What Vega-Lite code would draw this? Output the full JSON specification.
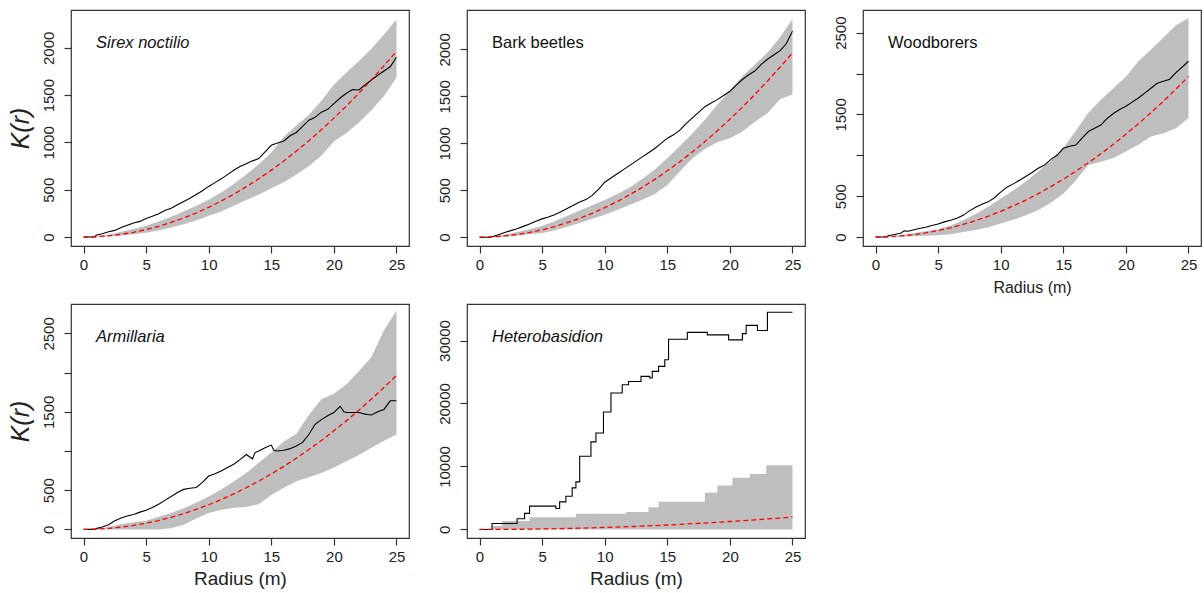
{
"$schema":"https://vega.github.io/schema/vega-lite/v6.json",
"background":"white",
"padding":{"left":7,"top":9,"right":0,"bottom":0},
"config":{
 "font":"Liberation Sans",
 "view":{"stroke":"#333","strokeWidth":1.2},
 "axis":{"grid":false,"domain":false,"tickColor":"#333","tickSize":7,"tickWidth":1.2,"labelFontSize":15,"labelColor":"#222","labelFont":"Liberation Sans","titleFont":"Liberation Sans","titleFontWeight":"normal","titleColor":"#222"},
 "axisX":{"labelPadding":4,"labelAngle":0},
 "axisY":{"labelAngle":-90,"labelAlign":"center","labelBaseline":"bottom","labelPadding":8},
 "title":{"fontSize":16.5,"fontWeight":"normal","color":"#111","anchor":"start","frame":"group","dx":25,"offset":-41}
},
"datasets":{
 "theo":[{"r":0,"k":0},{"r":1,"k":3},{"r":2,"k":13},{"r":3,"k":28},{"r":4,"k":50},{"r":5,"k":79},{"r":6,"k":113},{"r":7,"k":154},{"r":8,"k":201},{"r":9,"k":254},{"r":10,"k":314},{"r":11,"k":380},{"r":12,"k":452},{"r":13,"k":531},{"r":14,"k":616},{"r":15,"k":707},{"r":16,"k":804},{"r":17,"k":908},{"r":18,"k":1018},{"r":19,"k":1134},{"r":20,"k":1257},{"r":21,"k":1385},{"r":22,"k":1521},{"r":23,"k":1662},{"r":24,"k":1810},{"r":25,"k":1963}],
 "sirex_obs":[{"r":0,"k":0},{"r":0.9,"k":0},{"r":1,"k":20},{"r":1.5,"k":35},{"r":2,"k":55},{"r":2.5,"k":70},{"r":3,"k":100},{"r":3.5,"k":125},{"r":4,"k":148},{"r":4.5,"k":165},{"r":5,"k":195},{"r":5.5,"k":220},{"r":6,"k":245},{"r":6.5,"k":280},{"r":7,"k":305},{"r":7.5,"k":340},{"r":8,"k":375},{"r":8.5,"k":410},{"r":9,"k":450},{"r":9.5,"k":490},{"r":10,"k":535},{"r":10.5,"k":575},{"r":11,"k":615},{"r":11.5,"k":660},{"r":12,"k":705},{"r":12.5,"k":745},{"r":13,"k":775},{"r":13.5,"k":805},{"r":14,"k":830},{"r":14.5,"k":900},{"r":15,"k":970},{"r":15.5,"k":995},{"r":16,"k":1015},{"r":16.5,"k":1070},{"r":17,"k":1105},{"r":17.5,"k":1170},{"r":18,"k":1235},{"r":18.5,"k":1265},{"r":19,"k":1320},{"r":19.5,"k":1350},{"r":20,"k":1410},{"r":20.5,"k":1470},{"r":21,"k":1520},{"r":21.5,"k":1560},{"r":22,"k":1555},{"r":22.5,"k":1610},{"r":23,"k":1660},{"r":23.5,"k":1710},{"r":24,"k":1755},{"r":24.5,"k":1800},{"r":25,"k":1900}],
 "sirex_env":[{"r":0,"lo":0,"hi":0},{"r":1,"lo":0,"hi":5},{"r":2,"lo":5,"hi":25},{"r":3,"lo":15,"hi":55},{"r":4,"lo":30,"hi":85},{"r":5,"lo":45,"hi":120},{"r":6,"lo":70,"hi":165},{"r":7,"lo":100,"hi":215},{"r":8,"lo":135,"hi":270},{"r":9,"lo":175,"hi":330},{"r":10,"lo":225,"hi":395},{"r":11,"lo":270,"hi":470},{"r":12,"lo":330,"hi":560},{"r":13,"lo":390,"hi":660},{"r":14,"lo":450,"hi":770},{"r":15,"lo":515,"hi":890},{"r":16,"lo":580,"hi":1060},{"r":17,"lo":660,"hi":1180},{"r":18,"lo":750,"hi":1290},{"r":19,"lo":860,"hi":1440},{"r":20,"lo":1010,"hi":1610},{"r":21,"lo":1100,"hi":1740},{"r":22,"lo":1210,"hi":1860},{"r":23,"lo":1340,"hi":1990},{"r":24,"lo":1490,"hi":2140},{"r":25,"lo":1685,"hi":2300}],
 "bark_obs":[{"r":0,"k":0},{"r":0.9,"k":0},{"r":1,"k":5},{"r":1.5,"k":25},{"r":2,"k":50},{"r":2.5,"k":70},{"r":3,"k":90},{"r":3.5,"k":115},{"r":4,"k":140},{"r":4.5,"k":170},{"r":5,"k":195},{"r":5.5,"k":215},{"r":6,"k":240},{"r":6.5,"k":270},{"r":7,"k":305},{"r":7.5,"k":340},{"r":8,"k":375},{"r":8.5,"k":400},{"r":9,"k":445},{"r":9.5,"k":510},{"r":10,"k":585},{"r":10.5,"k":630},{"r":11,"k":675},{"r":11.5,"k":720},{"r":12,"k":765},{"r":12.5,"k":810},{"r":13,"k":855},{"r":13.5,"k":900},{"r":14,"k":945},{"r":14.5,"k":1000},{"r":15,"k":1055},{"r":15.5,"k":1090},{"r":16,"k":1140},{"r":16.5,"k":1210},{"r":17,"k":1270},{"r":17.5,"k":1330},{"r":18,"k":1390},{"r":18.5,"k":1430},{"r":19,"k":1465},{"r":19.5,"k":1510},{"r":20,"k":1555},{"r":20.5,"k":1620},{"r":21,"k":1680},{"r":21.5,"k":1730},{"r":22,"k":1770},{"r":22.5,"k":1840},{"r":23,"k":1895},{"r":23.5,"k":1940},{"r":24,"k":1985},{"r":24.5,"k":2060},{"r":25,"k":2195}],
 "bark_env":[{"r":0,"lo":0,"hi":0},{"r":1,"lo":0,"hi":5},{"r":2,"lo":5,"hi":25},{"r":3,"lo":15,"hi":55},{"r":4,"lo":30,"hi":85},{"r":5,"lo":45,"hi":120},{"r":6,"lo":75,"hi":170},{"r":7,"lo":110,"hi":225},{"r":8,"lo":150,"hi":285},{"r":9,"lo":195,"hi":340},{"r":10,"lo":240,"hi":395},{"r":11,"lo":290,"hi":460},{"r":12,"lo":345,"hi":530},{"r":13,"lo":400,"hi":620},{"r":14,"lo":460,"hi":720},{"r":15,"lo":555,"hi":840},{"r":16,"lo":700,"hi":970},{"r":17,"lo":840,"hi":1105},{"r":18,"lo":940,"hi":1250},{"r":19,"lo":1010,"hi":1410},{"r":20,"lo":1055,"hi":1560},{"r":21,"lo":1125,"hi":1715},{"r":22,"lo":1230,"hi":1840},{"r":23,"lo":1320,"hi":1965},{"r":24,"lo":1470,"hi":2130},{"r":25,"lo":1520,"hi":2325}],
 "wood_obs":[{"r":0,"k":0},{"r":0.9,"k":0},{"r":1,"k":15},{"r":1.5,"k":30},{"r":2,"k":45},{"r":2.3,"k":75},{"r":2.6,"k":70},{"r":3,"k":85},{"r":3.5,"k":105},{"r":4,"k":120},{"r":4.5,"k":140},{"r":5,"k":160},{"r":5.5,"k":185},{"r":6,"k":205},{"r":6.5,"k":230},{"r":7,"k":265},{"r":7.5,"k":320},{"r":8,"k":365},{"r":8.5,"k":400},{"r":9,"k":430},{"r":9.5,"k":480},{"r":10,"k":550},{"r":10.5,"k":610},{"r":11,"k":650},{"r":11.5,"k":695},{"r":12,"k":740},{"r":12.5,"k":790},{"r":13,"k":840},{"r":13.5,"k":880},{"r":14,"k":950},{"r":14.5,"k":1000},{"r":15,"k":1085},{"r":15.5,"k":1110},{"r":16,"k":1125},{"r":16.5,"k":1210},{"r":17,"k":1290},{"r":17.5,"k":1330},{"r":18,"k":1370},{"r":18.5,"k":1450},{"r":19,"k":1510},{"r":19.5,"k":1560},{"r":20,"k":1600},{"r":20.5,"k":1650},{"r":21,"k":1700},{"r":21.5,"k":1760},{"r":22,"k":1820},{"r":22.5,"k":1880},{"r":23,"k":1905},{"r":23.5,"k":1930},{"r":24,"k":2010},{"r":24.5,"k":2080},{"r":25,"k":2150}],
 "wood_env":[{"r":0,"lo":0,"hi":0},{"r":1,"lo":0,"hi":5},{"r":2,"lo":2,"hi":20},{"r":3,"lo":10,"hi":45},{"r":4,"lo":15,"hi":70},{"r":5,"lo":20,"hi":95},{"r":6,"lo":35,"hi":140},{"r":7,"lo":60,"hi":205},{"r":8,"lo":85,"hi":280},{"r":9,"lo":120,"hi":370},{"r":10,"lo":165,"hi":470},{"r":11,"lo":210,"hi":570},{"r":12,"lo":265,"hi":680},{"r":13,"lo":330,"hi":800},{"r":14,"lo":420,"hi":940},{"r":15,"lo":530,"hi":1090},{"r":16,"lo":690,"hi":1300},{"r":17,"lo":880,"hi":1520},{"r":18,"lo":920,"hi":1680},{"r":19,"lo":965,"hi":1820},{"r":20,"lo":1045,"hi":1960},{"r":21,"lo":1130,"hi":2150},{"r":22,"lo":1230,"hi":2290},{"r":23,"lo":1270,"hi":2440},{"r":24,"lo":1330,"hi":2590},{"r":25,"lo":1455,"hi":2680}],
 "arm_obs":[{"r":0,"k":0},{"r":0.9,"k":0},{"r":1,"k":10},{"r":1.5,"k":30},{"r":2,"k":60},{"r":2.5,"k":110},{"r":3,"k":145},{"r":3.5,"k":170},{"r":4,"k":190},{"r":4.5,"k":220},{"r":5,"k":245},{"r":5.5,"k":280},{"r":6,"k":320},{"r":6.5,"k":370},{"r":7,"k":420},{"r":7.5,"k":470},{"r":8,"k":510},{"r":8.5,"k":525},{"r":9,"k":535},{"r":9.5,"k":600},{"r":10,"k":680},{"r":10.5,"k":710},{"r":11,"k":745},{"r":11.5,"k":790},{"r":12,"k":830},{"r":12.5,"k":890},{"r":13,"k":955},{"r":13.5,"k":900},{"r":13.7,"k":980},{"r":14,"k":1000},{"r":14.5,"k":1040},{"r":15,"k":1075},{"r":15.2,"k":1010},{"r":15.5,"k":1000},{"r":16,"k":1010},{"r":16.5,"k":1030},{"r":17,"k":1065},{"r":17.5,"k":1110},{"r":18,"k":1210},{"r":18.5,"k":1340},{"r":19,"k":1400},{"r":19.5,"k":1450},{"r":20,"k":1490},{"r":20.5,"k":1570},{"r":20.8,"k":1500},{"r":21,"k":1490},{"r":21.5,"k":1490},{"r":22,"k":1490},{"r":22.5,"k":1470},{"r":23,"k":1460},{"r":23.5,"k":1500},{"r":24,"k":1530},{"r":24.5,"k":1640},{"r":25,"k":1640}],
 "arm_env":[{"r":0,"lo":0,"hi":0},{"r":1,"lo":0,"hi":5},{"r":2,"lo":0,"hi":30},{"r":3,"lo":0,"hi":65},{"r":4,"lo":0,"hi":90},{"r":5,"lo":0,"hi":110},{"r":6,"lo":0,"hi":160},{"r":7,"lo":15,"hi":210},{"r":8,"lo":60,"hi":270},{"r":9,"lo":140,"hi":340},{"r":10,"lo":210,"hi":420},{"r":11,"lo":250,"hi":510},{"r":12,"lo":275,"hi":610},{"r":13,"lo":290,"hi":720},{"r":14,"lo":320,"hi":850},{"r":15,"lo":440,"hi":980},{"r":16,"lo":530,"hi":1120},{"r":17,"lo":615,"hi":1220},{"r":18,"lo":665,"hi":1460},{"r":19,"lo":720,"hi":1660},{"r":20,"lo":790,"hi":1730},{"r":21,"lo":870,"hi":1850},{"r":22,"lo":950,"hi":2020},{"r":23,"lo":1040,"hi":2200},{"r":24,"lo":1130,"hi":2540},{"r":25,"lo":1210,"hi":2790}],
 "het_obs":[{"r":0,"k":0},{"r":1.0,"k":950},{"r":3.0,"k":1700},{"r":3.6,"k":2550},{"r":4.0,"k":3700},{"r":6.1,"k":3330},{"r":6.4,"k":4380},{"r":6.9,"k":5280},{"r":7.4,"k":6600},{"r":7.7,"k":7550},{"r":8.0,"k":11620},{"r":8.9,"k":13900},{"r":9.3,"k":15320},{"r":9.9,"k":18650},{"r":10.5,"k":21660},{"r":11.4,"k":22980},{"r":11.9,"k":23500},{"r":12.9,"k":24300},{"r":13.6,"k":24050},{"r":13.8,"k":25100},{"r":14.3,"k":25900},{"r":14.8,"k":26950},{"r":15.1,"k":30200},{"r":16.6,"k":31300},{"r":18.2,"k":30900},{"r":19.9,"k":30100},{"r":21.0,"k":31100},{"r":21.3,"k":32400},{"r":22.2,"k":31600},{"r":23.0,"k":34500},{"r":25,"k":34500}],
 "het_env":[{"r":0,"lo":0,"hi":0},{"r":1.0,"lo":0,"hi":530},{"r":1.8,"lo":0,"hi":1320},{"r":4.0,"lo":0,"hi":1950},{"r":7.7,"lo":0,"hi":2480},{"r":11.7,"lo":0,"hi":2750},{"r":13.5,"lo":0,"hi":3540},{"r":14.3,"lo":0,"hi":4380},{"r":18.0,"lo":0,"hi":5810},{"r":19.0,"lo":0,"hi":6970},{"r":20.2,"lo":0,"hi":8190},{"r":21.6,"lo":0,"hi":8820},{"r":22.9,"lo":0,"hi":10190},{"r":25,"lo":0,"hi":10190}]
},
"columns":3,
"spacing":{"row":58,"column":58},
"bounds":"flush",
"concat":[
 {"width":338,"height":236,"title":{"text":"Sirex noctilio","fontStyle":"italic"},
  "layer":[
   {"data":{"name":"sirex_env"},"mark":{"type":"area","color":"#BEBEBE"},"encoding":{"x":{"field":"r","type":"quantitative","scale":{"domain":[-1,26],"nice":false,"zero":false},"axis":{"values":[0,5,10,15,20,25],"title":null}},"y":{"field":"lo","type":"quantitative","scale":{"domain":[-95,2400],"nice":false,"zero":false},"axis":{"values":[0,500,1000,1500,2000],"format":"d","title":"K(r)","titleFontSize":25,"titleFontStyle":"italic","titlePadding":8}},"y2":{"field":"hi"}}},
   {"data":{"name":"sirex_obs"},"mark":{"type":"line","color":"#000","strokeWidth":1.1},"encoding":{"x":{"field":"r","type":"quantitative"},"y":{"field":"k","type":"quantitative"}}},
   {"data":{"name":"theo"},"mark":{"type":"line","color":"#FF0000","strokeDash":[5,3],"strokeWidth":1.3},"encoding":{"x":{"field":"r","type":"quantitative"},"y":{"field":"k","type":"quantitative"}}}
  ]},
 {"width":338,"height":236,"title":{"text":"Bark beetles"},
  "layer":[
   {"data":{"name":"bark_env"},"mark":{"type":"area","color":"#BEBEBE"},"encoding":{"x":{"field":"r","type":"quantitative","scale":{"domain":[-1,26],"nice":false,"zero":false},"axis":{"values":[0,5,10,15,20,25],"title":null}},"y":{"field":"lo","type":"quantitative","scale":{"domain":[-94,2420],"nice":false,"zero":false},"axis":{"values":[0,500,1000,1500,2000],"format":"d","title":null}},"y2":{"field":"hi"}}},
   {"data":{"name":"bark_obs"},"mark":{"type":"line","color":"#000","strokeWidth":1.1},"encoding":{"x":{"field":"r","type":"quantitative"},"y":{"field":"k","type":"quantitative"}}},
   {"data":{"name":"theo"},"mark":{"type":"line","color":"#FF0000","strokeDash":[5,3],"strokeWidth":1.3},"encoding":{"x":{"field":"r","type":"quantitative"},"y":{"field":"k","type":"quantitative"}}}
  ]},
 {"width":338,"height":236,"title":{"text":"Woodborers"},
  "layer":[
   {"data":{"name":"wood_env"},"mark":{"type":"area","color":"#BEBEBE"},"encoding":{"x":{"field":"r","type":"quantitative","scale":{"domain":[-1,26],"nice":false,"zero":false},"axis":{"values":[0,5,10,15,20,25],"title":"Radius (m)","titleFontSize":16,"titlePadding":7}},"y":{"field":"lo","type":"quantitative","scale":{"domain":[-110,2777],"nice":false,"zero":false},"axis":{"values":[0,500,1000,1500,2000,2500],"format":"d","labelExpr":"datum.value == 1000 || datum.value == 2000 ? '' : datum.label","title":null}},"y2":{"field":"hi"}}},
   {"data":{"name":"wood_obs"},"mark":{"type":"line","color":"#000","strokeWidth":1.1},"encoding":{"x":{"field":"r","type":"quantitative"},"y":{"field":"k","type":"quantitative"}}},
   {"data":{"name":"theo"},"mark":{"type":"line","color":"#FF0000","strokeDash":[5,3],"strokeWidth":1.3},"encoding":{"x":{"field":"r","type":"quantitative"},"y":{"field":"k","type":"quantitative"}}}
  ]},
 {"width":338,"height":234,"title":{"text":"Armillaria","fontStyle":"italic"},
  "layer":[
   {"data":{"name":"arm_env"},"mark":{"type":"area","color":"#BEBEBE"},"encoding":{"x":{"field":"r","type":"quantitative","scale":{"domain":[-1,26],"nice":false,"zero":false},"axis":{"values":[0,5,10,15,20,25],"title":"Radius (m)","titleFontSize":19,"titlePadding":5}},"y":{"field":"lo","type":"quantitative","scale":{"domain":[-110,2875],"nice":false,"zero":false},"axis":{"values":[0,500,1000,1500,2000,2500],"format":"d","labelExpr":"datum.value == 1000 || datum.value == 2000 ? '' : datum.label","title":"K(r)","titleFontSize":25,"titleFontStyle":"italic","titlePadding":8}},"y2":{"field":"hi"}}},
   {"data":{"name":"arm_obs"},"mark":{"type":"line","color":"#000","strokeWidth":1.1},"encoding":{"x":{"field":"r","type":"quantitative"},"y":{"field":"k","type":"quantitative"}}},
   {"data":{"name":"theo"},"mark":{"type":"line","color":"#FF0000","strokeDash":[5,3],"strokeWidth":1.3},"encoding":{"x":{"field":"r","type":"quantitative"},"y":{"field":"k","type":"quantitative"}}}
  ]},
 {"width":338,"height":234,"title":{"text":"Heterobasidion","fontStyle":"italic"},
  "layer":[
   {"data":{"name":"het_env"},"mark":{"type":"area","color":"#BEBEBE","interpolate":"step-after"},"encoding":{"x":{"field":"r","type":"quantitative","scale":{"domain":[-1,26],"nice":false,"zero":false},"axis":{"values":[0,5,10,15,20,25],"title":"Radius (m)","titleFontSize":19,"titlePadding":5}},"y":{"field":"lo","type":"quantitative","scale":{"domain":[-1360,35800],"nice":false,"zero":false},"axis":{"values":[0,5000,10000,15000,20000,25000,30000],"format":"d","labelExpr":"datum.value % 10000 != 0 ? '' : datum.label","title":null}},"y2":{"field":"hi"}}},
   {"data":{"name":"het_obs"},"mark":{"type":"line","color":"#000","strokeWidth":1.1,"interpolate":"step-after"},"encoding":{"x":{"field":"r","type":"quantitative"},"y":{"field":"k","type":"quantitative"}}},
   {"data":{"name":"theo"},"mark":{"type":"line","color":"#FF0000","strokeDash":[5,3],"strokeWidth":1.3},"encoding":{"x":{"field":"r","type":"quantitative"},"y":{"field":"k","type":"quantitative"}}}
  ]}
]
}
